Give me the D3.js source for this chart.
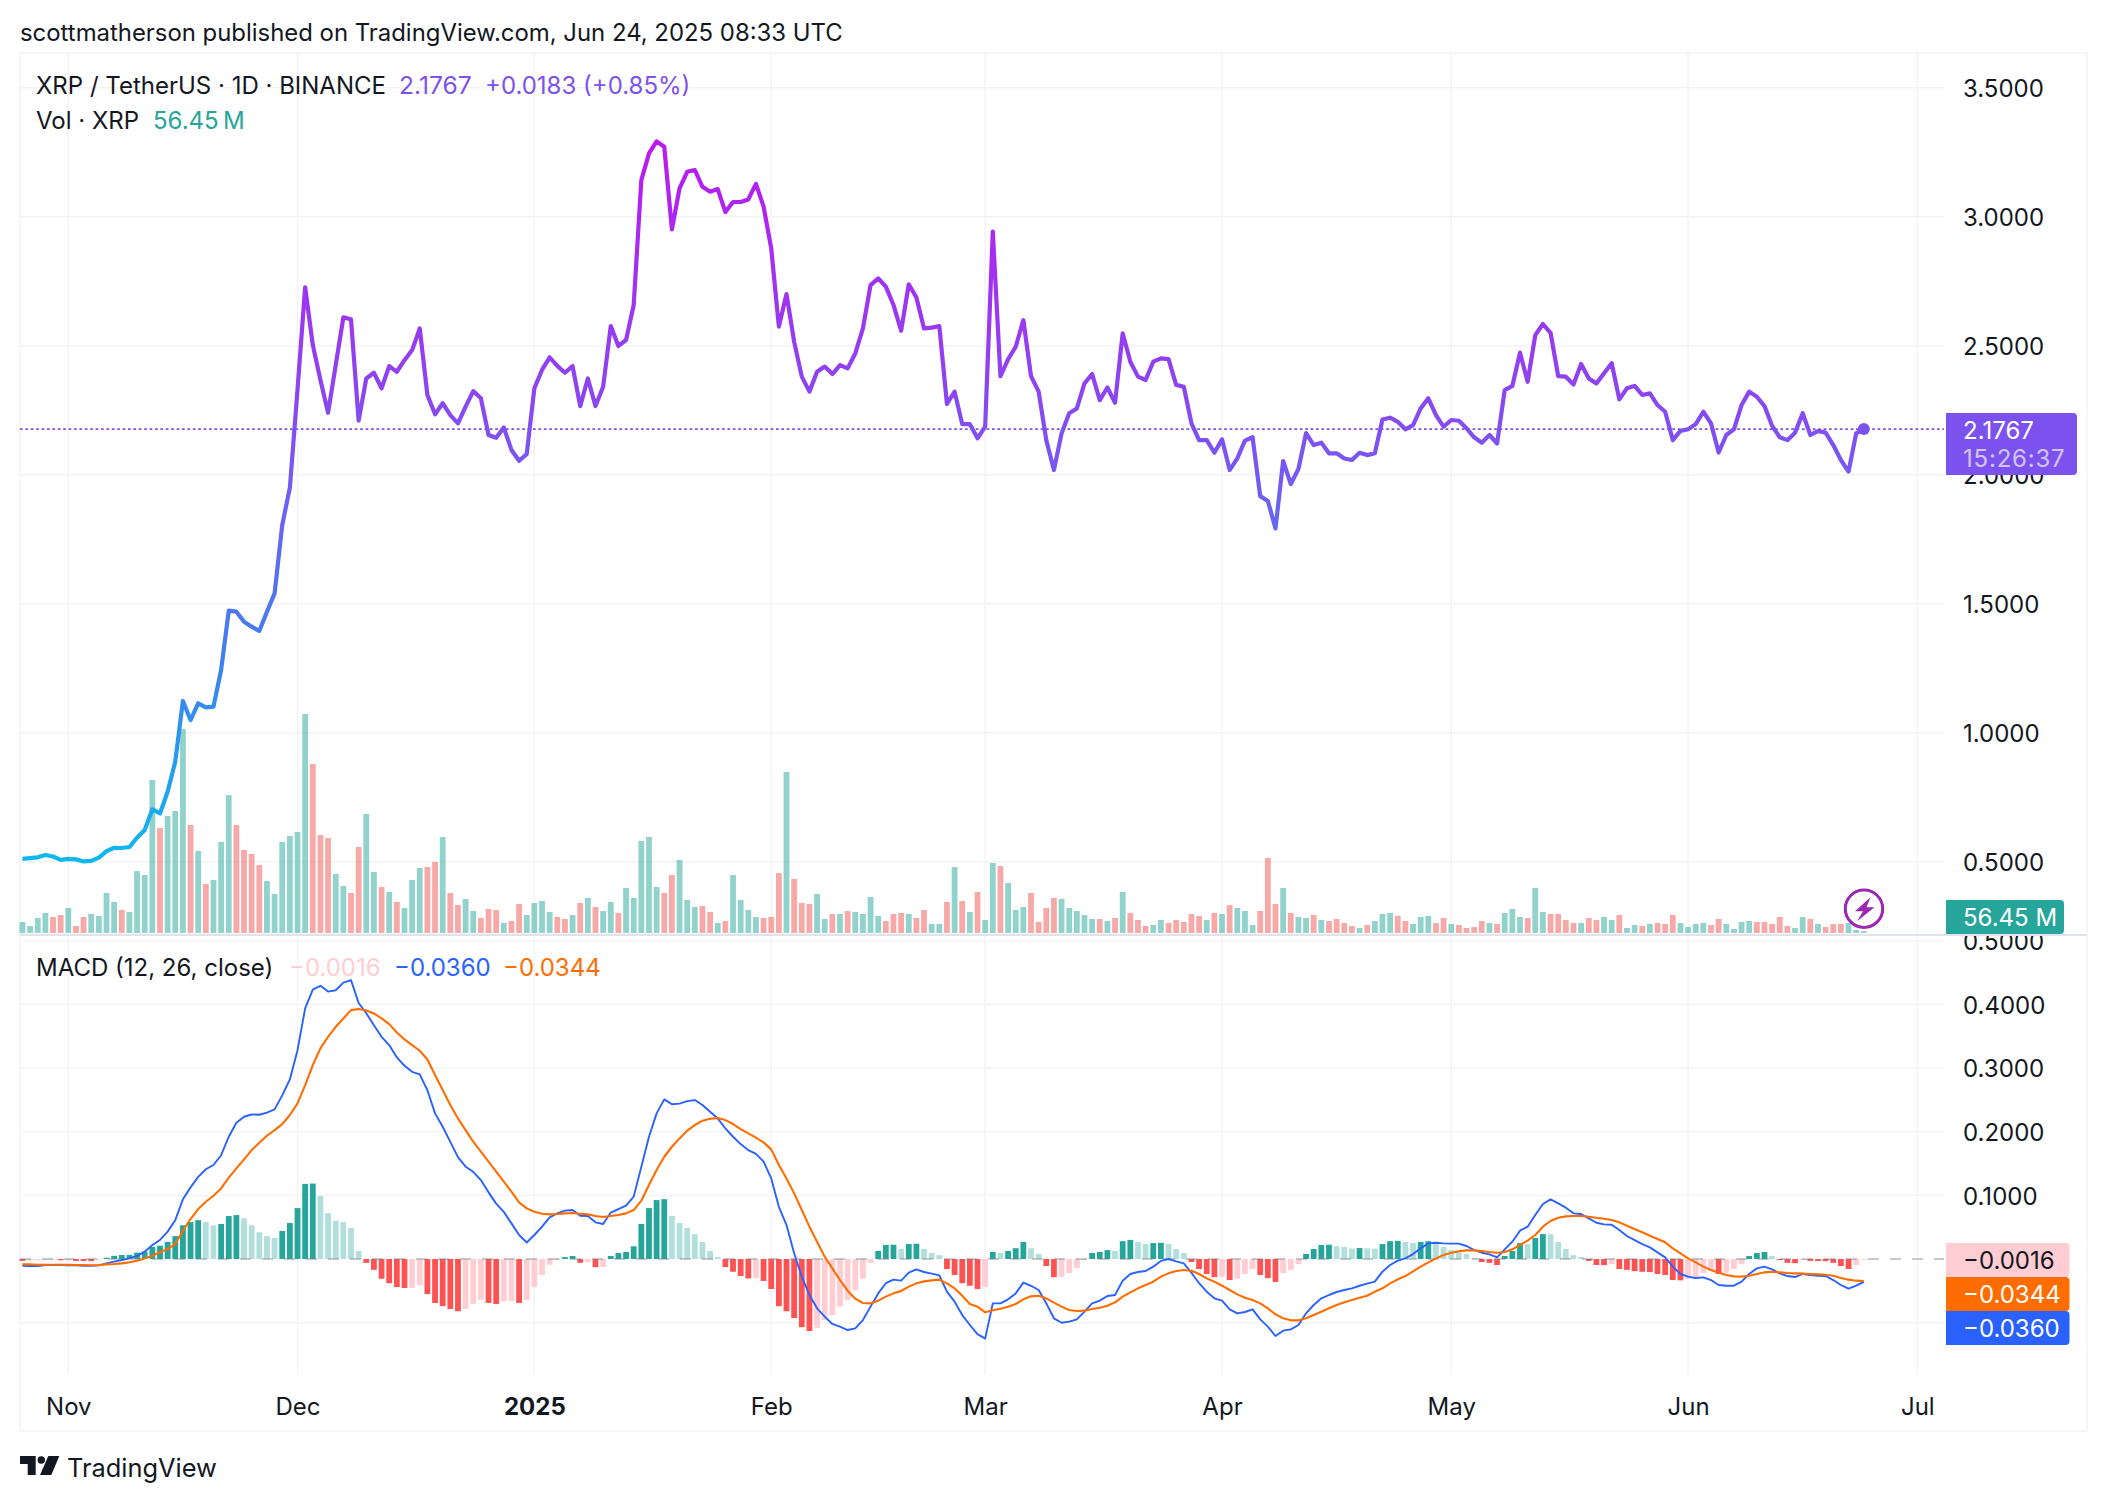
<!DOCTYPE html>
<html>
<head>
<meta charset="utf-8">
<style>
  html, body { margin: 0; padding: 0; background: #fff; }
  svg { display: block; }
  text { font-family: Inter, "Open Sans", sans-serif; fill: #131722; }
</style>
</head>
<body>
<svg id="chart"></svg>
<script src="https://cdnjs.cloudflare.com/ajax/libs/d3/7.8.5/d3.min.js"></script>
<script>
//daily bars from 26 Oct 2024 to 24 Jun 2025
const firstDay = new Date(Date.UTC(2024, 9, 26));
const lastDay = new Date(Date.UTC(2025, 5, 24));

const closes = [
  0.511, 0.514, 0.517, 0.526, 0.52, 0.507, 0.511, 0.509, 0.501, 0.503,
  0.516, 0.541, 0.554, 0.553, 0.557, 0.593, 0.623, 0.703, 0.687, 0.771,
  0.888, 1.123, 1.049, 1.114, 1.098, 1.101, 1.243, 1.473, 1.469, 1.43,
  1.411, 1.394, 1.469, 1.54, 1.805, 1.95, 2.33, 2.726, 2.503, 2.367,
  2.24, 2.425, 2.61, 2.602, 2.21, 2.373, 2.395, 2.335, 2.421, 2.399,
  2.444, 2.483, 2.567, 2.309, 2.234, 2.277, 2.231, 2.199, 2.264, 2.324,
  2.296, 2.154, 2.143, 2.183, 2.096, 2.054, 2.08, 2.335, 2.406, 2.455,
  2.422, 2.395, 2.421, 2.266, 2.373, 2.266, 2.341, 2.576, 2.499, 2.522,
  2.658, 3.142, 3.245, 3.292, 3.271, 2.951, 3.11, 3.174, 3.181, 3.116,
  3.097, 3.107, 3.018, 3.057, 3.057, 3.067, 3.127, 3.039, 2.877, 2.574,
  2.7, 2.515, 2.38, 2.322, 2.399, 2.419, 2.39, 2.425, 2.412, 2.47,
  2.567, 2.735, 2.761, 2.729, 2.658, 2.558, 2.738, 2.687, 2.567, 2.57,
  2.576, 2.274, 2.322, 2.196, 2.196, 2.141, 2.186, 2.942, 2.382, 2.447,
  2.496, 2.599, 2.382, 2.322, 2.134, 2.018, 2.16, 2.238, 2.257, 2.354,
  2.39, 2.289, 2.338, 2.279, 2.548, 2.438, 2.38, 2.367, 2.438, 2.451,
  2.448, 2.348, 2.341, 2.199, 2.134, 2.134, 2.085, 2.137, 2.018, 2.063,
  2.132, 2.145, 1.917, 1.898, 1.792, 2.053, 1.964, 2.022, 2.161, 2.115,
  2.124, 2.083, 2.083, 2.063, 2.057, 2.085, 2.076, 2.083, 2.214, 2.221,
  2.205, 2.176, 2.192, 2.257, 2.296, 2.231, 2.186, 2.212, 2.209, 2.18,
  2.145, 2.124, 2.154, 2.121, 2.328, 2.344, 2.473, 2.36, 2.541, 2.584,
  2.55, 2.382, 2.38, 2.35, 2.429, 2.373, 2.354, 2.393, 2.432, 2.292,
  2.335, 2.344, 2.309, 2.315, 2.27, 2.244, 2.134, 2.17, 2.176, 2.196,
  2.244, 2.199, 2.086, 2.154, 2.176, 2.27, 2.322, 2.302, 2.266, 2.189,
  2.145, 2.134, 2.163, 2.238, 2.154, 2.169, 2.163, 2.115, 2.057, 2.012,
  2.16, 2.1767
];

//volume in millions, negative means a down day
const volumes = [
  330, 210, 450, 600, -480, -540, 750, -210, -480, 570,
  510, 1200, 930, -690, 630, 1860, 1740, 4590, -3150, 3510,
  3660, 6120, -3240, 2460, -1470, 1590, 2730, 4140, -3240, -2490,
  -2370, -2040, 1560, 1170, 2730, 2910, 3030, 6570, -5070, -2940,
  -2850, 1770, 1410, -1200, -2580, 3570, 1830, -1380, 1230, -930,
  750, 1590, 1950, -1980, -2130, 2880, -1200, -840, 1020, 660,
  -450, -720, -690, 300, -360, -870, 540, 900, 960, 630,
  -480, -420, 540, -900, 1050, -780, 660, 930, -600, 1350,
  1050, 2760, 2880, 1380, -1200, -1740, 2190, 990, 780, -810,
  -630, 300, -360, 1740, 990, 690, 480, -450, -480, -1800,
  4830, -1620, -900, -870, 1170, 420, -570, 570, -660, 630,
  570, 1080, 510, -360, -570, -600, 570, -450, -690, 270,
  270, -930, 1980, -960, 630, -1230, 390, 2100, -2010, 1500,
  690, 780, -1200, -330, -750, -1050, 1020, 750, 660, 540,
  420, -420, 360, -450, 1230, -600, -390, -210, 240, 390,
  -300, -390, -330, -570, -510, 390, -600, 570, -840, 750,
  660, 240, -660, -2250, -870, 1350, -600, 480, 450, -540,
  390, -360, -420, -300, -210, 150, -240, 360, 570, 600,
  -510, -360, 270, 480, 510, -300, -450, 270, -240, -150,
  -180, -360, 300, -270, 600, 720, 480, -450, 1350, 630,
  -570, -570, -390, -300, 300, -450, -390, 480, 390, -540,
  150, 240, -210, 270, -300, -270, -540, 300, 180, 270,
  300, -240, -420, 270, 120, 330, 360, -330, -330, -270,
  -480, -210, 150, 480, -420, 270, -180, -270, -270, 300,
  90, 56.45
];

const macdLine = [
  -0.0105, -0.011, -0.011, -0.0094, -0.0094, -0.0094, -0.01, -0.01, -0.0105, -0.0105,
  -0.01, -0.0068, -0.004, -0.0016, 0.001, 0.005, 0.0115, 0.022, 0.03, 0.043,
  0.061, 0.0937, 0.1125, 0.129, 0.141, 0.1476, 0.163, 0.192, 0.214, 0.2234,
  0.227, 0.2266, 0.23, 0.235, 0.257, 0.282, 0.328, 0.3935, 0.423, 0.429,
  0.42, 0.422, 0.434, 0.438, 0.402, 0.386, 0.367, 0.349, 0.336, 0.3166,
  0.3035, 0.294, 0.29, 0.265, 0.2287, 0.2077, 0.184, 0.16, 0.145, 0.137,
  0.124, 0.1047, 0.087, 0.074, 0.056, 0.0377, 0.026, 0.0377, 0.0508, 0.0654,
  0.0717, 0.076, 0.077, 0.068, 0.0675, 0.0576, 0.055, 0.073, 0.0785, 0.0837,
  0.098, 0.145, 0.192, 0.2287, 0.2507, 0.243, 0.244, 0.248, 0.2496, 0.2418,
  0.2313, 0.2208, 0.205, 0.192, 0.1805, 0.171, 0.165, 0.153, 0.1266, 0.082,
  0.0534, 0.009, -0.0277, -0.0565, -0.0774, -0.0905, -0.102, -0.1062, -0.1115, -0.1088,
  -0.0958, -0.0748, -0.054, -0.038, -0.0324, -0.034, -0.0215, -0.0162, -0.0204, -0.023,
  -0.0256, -0.0513, -0.067, -0.088, -0.1036, -0.118, -0.125, -0.0696, -0.0696, -0.0633,
  -0.054, -0.037, -0.042, -0.0487, -0.0696, -0.0931, -0.1, -0.0984, -0.0947, -0.0827,
  -0.0696, -0.0654, -0.058, -0.0565, -0.034, -0.0235, -0.0204, -0.0188, -0.012, -0.003,
  0, -0.0037, -0.0068, -0.0215, -0.038, -0.0513, -0.0617, -0.0654, -0.079, -0.0853,
  -0.0832, -0.079, -0.0947, -0.1062, -0.1209, -0.1125, -0.1104, -0.1036, -0.0853, -0.0722,
  -0.0617, -0.0565, -0.0518, -0.0487, -0.046, -0.042, -0.0387, -0.0356, -0.0199, -0.0094,
  -0.0026, 0.001, 0.0078, 0.0167, 0.0246, 0.0256, 0.0246, 0.0241, 0.0241, 0.0204,
  0.0141, 0.0099, 0.0073, 0.0026, 0.0152, 0.0272, 0.0445, 0.0508, 0.0691, 0.0863,
  0.0937, 0.0874, 0.0806, 0.0717, 0.0706, 0.0638, 0.057, 0.0544, 0.0539, 0.0455,
  0.0361, 0.0298, 0.0235, 0.0183, 0.0105, 0.0026, -0.012, -0.0235, -0.0277, -0.0298,
  -0.0288, -0.033, -0.0408, -0.0419, -0.0419, -0.0356, -0.0235, -0.0147, -0.012, -0.0162,
  -0.0225, -0.0267, -0.0283, -0.0235, -0.0251, -0.0262, -0.0267, -0.033, -0.0408, -0.0466,
  -0.0419, -0.036
];

const signalLine = [
  -0.0084, -0.0084, -0.0089, -0.0089, -0.0089, -0.0089, -0.0089, -0.0094, -0.0094, -0.0099,
  -0.0094, -0.0084, -0.0078, -0.0068, -0.0052, -0.0026, 0.001, 0.0052, 0.0105, 0.0157,
  0.0235, 0.0445, 0.0628, 0.0785, 0.09, 0.0994, 0.1109, 0.1277, 0.1423, 0.1565,
  0.1711, 0.1826, 0.1936, 0.2025, 0.2119, 0.2261, 0.2444, 0.2732, 0.3046, 0.3307,
  0.349, 0.3647, 0.3778, 0.3909, 0.3925, 0.3904, 0.3857, 0.3778, 0.3689, 0.3558,
  0.3448, 0.336, 0.3271, 0.3134, 0.2889, 0.2653, 0.2418, 0.2208, 0.2025, 0.1842,
  0.1685, 0.1528, 0.1371, 0.1214, 0.1057, 0.089, 0.0795, 0.0743, 0.0712, 0.0701,
  0.0706, 0.0717, 0.0722, 0.0712, 0.0701, 0.0675, 0.0659, 0.0675, 0.0691, 0.0717,
  0.0769, 0.0916, 0.1162, 0.1397, 0.1606, 0.1763, 0.1894, 0.2015, 0.2104, 0.2172,
  0.2203, 0.2213, 0.2182, 0.212, 0.2041, 0.1973, 0.1905, 0.1832, 0.1722, 0.1476,
  0.1266, 0.1031, 0.0769, 0.0508, 0.0272, 0.0037, -0.0147, -0.033, -0.0497, -0.0623,
  -0.0691, -0.0696, -0.0654, -0.0591, -0.0539, -0.0502, -0.0434, -0.0382, -0.0351, -0.0335,
  -0.0324, -0.0382, -0.046, -0.0576, -0.0706, -0.0748, -0.0837, -0.0806, -0.078, -0.0748,
  -0.0706, -0.0633, -0.0586, -0.0576, -0.0617, -0.0685, -0.0748, -0.08, -0.0816, -0.0811,
  -0.0785, -0.0764, -0.0733, -0.068, -0.0591, -0.0523, -0.046, -0.0408, -0.0356, -0.0277,
  -0.0225, -0.0188, -0.0173, -0.0183, -0.0235, -0.0304, -0.0356, -0.0419, -0.0487, -0.0555,
  -0.0607, -0.0644, -0.0696, -0.0774, -0.0869, -0.0931, -0.0963, -0.0963, -0.0931, -0.0879,
  -0.0827, -0.0774, -0.0722, -0.068, -0.0644, -0.0607, -0.0576, -0.0513, -0.046, -0.0382,
  -0.0319, -0.0267, -0.0194, -0.012, -0.0052, 0.001, 0.0063, 0.0099, 0.012, 0.0136,
  0.0136, 0.0126, 0.011, 0.0099, 0.011, 0.0152, 0.022, 0.0288, 0.0377, 0.0508,
  0.0597, 0.0649, 0.067, 0.0675, 0.0675, 0.0665, 0.0649, 0.0633, 0.0612, 0.0576,
  0.0523, 0.0471, 0.0419, 0.0366, 0.0314, 0.0262, 0.0167, 0.0089, 0.001, -0.0052,
  -0.012, -0.0173, -0.0215, -0.0251, -0.0272, -0.0277, -0.0262, -0.0235, -0.0209, -0.0199,
  -0.0209, -0.022, -0.0225, -0.023, -0.0235, -0.0241, -0.0246, -0.0262, -0.0298, -0.0324,
  -0.034, -0.0344
];

const histogram = [
  -0.003, -0.002, -0.0018, -0.001, -0.0009, -0.002, -0.0019, -0.003, -0.0032, -0.0034,
  -0.001, 0.002, 0.005, 0.0063, 0.0065, 0.01, 0.0115, 0.019, 0.021, 0.027,
  0.036, 0.053, 0.058, 0.061, 0.058, 0.053, 0.055, 0.0675, 0.069, 0.064,
  0.053, 0.042, 0.036, 0.033, 0.044, 0.0565, 0.08, 0.118, 0.1185, 0.099,
  0.072, 0.06, 0.058, 0.049, 0.0126, -0.006, -0.017, -0.031, -0.038, -0.044,
  -0.0455, -0.0452, -0.041, -0.055, -0.069, -0.074, -0.0785, -0.082, -0.0785, -0.0706,
  -0.064, -0.069, -0.0706, -0.0665, -0.066, -0.069, -0.064, -0.044, -0.025, -0.009,
  -0.0016, 0.003, 0.0047, -0.006, -0.0047, -0.0128, -0.0125, 0.0047, 0.0094, 0.011,
  0.02, 0.055, 0.08, 0.0926, 0.094, 0.0675, 0.0565, 0.049, 0.039, 0.0267,
  0.0126, 0.003, -0.0126, -0.02, -0.0267, -0.0305, -0.03, -0.0345, -0.047, -0.074,
  -0.082, -0.0926, -0.107, -0.113, -0.108, -0.096, -0.088, -0.075, -0.064, -0.049,
  -0.031, -0.006, 0.0126, 0.022, 0.0225, 0.0157, 0.0235, 0.024, 0.0157, 0.0094,
  0.006, -0.0157, -0.025, -0.038, -0.042, -0.047, -0.044, 0.011, 0.0094, 0.0126,
  0.017, 0.0267, 0.017, 0.008, -0.011, -0.0285, -0.028, -0.022, -0.014, -0.0016,
  0.0094, 0.011, 0.014, 0.0126, 0.028, 0.03, 0.0267, 0.0235, 0.025, 0.0255,
  0.0235, 0.0157, 0.0094, -0.0047, -0.0157, -0.0235, -0.0285, -0.028, -0.033, -0.031,
  -0.0235, -0.0157, -0.025, -0.03, -0.036, -0.022, -0.017, -0.008, 0.008, 0.0157,
  0.022, 0.0225, 0.02, 0.019, 0.0165, 0.0172, 0.0168, 0.0165, 0.0235, 0.028,
  0.0285, 0.0267, 0.025, 0.0267, 0.028, 0.025, 0.019, 0.014, 0.0094, 0.008,
  0.0016, -0.0047, -0.006, -0.0094, 0.0047, 0.0126, 0.025, 0.0235, 0.033, 0.0392,
  0.039, 0.0267, 0.0157, 0.006, 0.003, -0.003, -0.0094, -0.0096, -0.008, -0.0157,
  -0.017, -0.019, -0.02, -0.0205, -0.0235, -0.025, -0.033, -0.0335, -0.031, -0.028,
  -0.022, -0.019, -0.0235, -0.0215, -0.0157, -0.008, 0.0047, 0.0094, 0.011, 0.0047,
  -0.0016, -0.006, -0.0065, -0.0016, -0.003, -0.0032, -0.0034, -0.006, -0.011, -0.0157,
  -0.0094, -0.0016
];

const monthTicks = [
  [new Date(Date.UTC(2024, 10, 1)), "Nov"],
  [new Date(Date.UTC(2024, 11, 1)), "Dec"],
  [new Date(Date.UTC(2025, 0, 1)), "2025"],
  [new Date(Date.UTC(2025, 1, 1)), "Feb"],
  [new Date(Date.UTC(2025, 2, 1)), "Mar"],
  [new Date(Date.UTC(2025, 3, 1)), "Apr"],
  [new Date(Date.UTC(2025, 4, 1)), "May"],
  [new Date(Date.UTC(2025, 5, 1)), "Jun"],
  [new Date(Date.UTC(2025, 6, 1)), "Jul"]
];
const priceTicks = [0.5, 1, 1.5, 2, 2.5, 3, 3.5];
const macdTicks = [-0.1, 0.1, 0.2, 0.3, 0.4, 0.5];

//dimension for canvas
const width = 2108;
const height = 1502;
const plotLeft = 20;
const plotRight = 1944;
const frameRight = 2087;
const frameTop = 53;
const frameBottom = 1431;
const plotBottom = 1375;
const paneLine = 935;
const labelX = 1963;
const fontSize = 24;

const days = d3.utcDay.range(firstDay, d3.utcDay.offset(lastDay, 1));

const svg = d3.select("#chart").attr("width", width).attr("height", height);

//scales, pinned on the gridlines
const x = d3.scaleUtc()
  .domain([monthTicks[0][0], monthTicks[8][0]])
  .range([68.3, 1917.3]);
const yPrice = d3.scaleLinear().domain([0.5, 3.5]).range([861.7, 87.7]);
const yVolume = d3.scaleLinear().domain([0, 6570]).range([933, 714]);
const yMacd = d3.scaleLinear().domain([-0.1, 0.4]).range([1322.7, 1004.3]);
const barWidth = 5.8;

//frame
svg.append("rect")
  .attr("x", plotLeft).attr("y", frameTop)
  .attr("width", frameRight - plotLeft).attr("height", frameBottom - frameTop)
  .attr("fill", "none").attr("stroke", "#f3f3f4").attr("stroke-width", 1.4);

//grid
const grid = svg.append("g").attr("stroke", "#f3f3f4").attr("stroke-width", 1.4);
grid.selectAll("line.v").data(monthTicks).enter().append("line")
  .attr("class", "v")
  .attr("x1", (d) => x(d[0])).attr("x2", (d) => x(d[0]))
  .attr("y1", frameTop).attr("y2", plotBottom);
grid.selectAll("line.p").data(priceTicks).enter().append("line")
  .attr("class", "p")
  .attr("x1", plotLeft).attr("x2", plotRight)
  .attr("y1", (d) => yPrice(d)).attr("y2", (d) => yPrice(d));
grid.selectAll("line.m").data(macdTicks).enter().append("line")
  .attr("class", "m")
  .attr("x1", plotLeft).attr("x2", plotRight)
  .attr("y1", (d) => yMacd(d)).attr("y2", (d) => yMacd(d));

//pane divider
svg.append("line")
  .attr("x1", plotLeft).attr("x2", frameRight)
  .attr("y1", paneLine).attr("y2", paneLine)
  .attr("stroke", "#e0e3eb").attr("stroke-width", 2);

//volume bars
svg.append("g").selectAll("rect").data(volumes).enter().append("rect")
  .attr("x", (d, i) => x(days[i]) - barWidth / 2)
  .attr("width", barWidth)
  .attr("y", (d) => yVolume(Math.abs(d)))
  .attr("height", (d) => yVolume(0) - yVolume(Math.abs(d)))
  .attr("fill", (d) => (d < 0 ? "#ef5350" : "#26a69a"))
  .attr("opacity", 0.5);

//price line has a vertical colour gradient
const defs = svg.append("defs");
const gradient = defs.append("linearGradient")
  .attr("id", "priceGradient")
  .attr("gradientUnits", "userSpaceOnUse")
  .attr("x1", 0).attr("x2", 0)
  .attr("y1", yPrice(3.3)).attr("y2", yPrice(0.5));
[
  ["0%", "#bb19f2"],
  ["35%", "#8c45f0"],
  ["50%", "#6e60f4"],
  ["72%", "#3f80ee"],
  ["100%", "#0fb8ef"]
].forEach((s) => {
  gradient.append("stop").attr("offset", s[0]).attr("stop-color", s[1]);
});

const priceLine = d3.line()
  .x((d, i) => x(days[i]))
  .y((d) => yPrice(d));
svg.append("path")
  .attr("d", priceLine(closes))
  .attr("fill", "none")
  .attr("stroke", "url(#priceGradient)")
  .attr("stroke-width", 4.2)
  .attr("stroke-linejoin", "round");

//dotted last price line
svg.append("line")
  .attr("x1", plotLeft).attr("x2", plotRight)
  .attr("y1", yPrice(2.1767)).attr("y2", yPrice(2.1767))
  .attr("stroke", "#7c52ee").attr("stroke-width", 1.8)
  .attr("stroke-dasharray", "2.7 2.7");

//last point
svg.append("circle")
  .attr("cx", x(lastDay)).attr("cy", yPrice(2.1767)).attr("r", 6)
  .attr("fill", "#7c52ee");

//lightning badge
const badge = svg.append("g").attr("transform", "translate(1864,908.7)");
badge.append("circle").attr("r", 18.7)
  .attr("fill", "#fff").attr("fill-opacity", 0.85)
  .attr("stroke", "#9c27b0").attr("stroke-width", 3);
badge.append("path")
  .attr("d", "M6.5 -11.5 L-9 2.5 L-1 2.5 L-7 12.5 L10.5 -1.5 L2.5 -1.5 Z")
  .attr("fill", "#9c27b0");

//macd histogram, colour depends on sign and on direction
const histColor = (d, i) => {
  const prev = i > 0 ? histogram[i - 1] : d;
  if (d >= 0) return d > prev ? "#26a69a" : "#b2dfdb";
  return d <= prev ? "#ff5252" : "#ffcdd2";
};
svg.append("g").selectAll("rect").data(histogram).enter().append("rect")
  .attr("x", (d, i) => x(days[i]) - barWidth / 2)
  .attr("width", barWidth)
  .attr("y", (d) => Math.min(yMacd(d), yMacd(0)))
  .attr("height", (d) => Math.abs(yMacd(d) - yMacd(0)))
  .attr("fill", histColor);

//zero line
svg.append("line")
  .attr("x1", plotLeft).attr("x2", plotRight)
  .attr("y1", yMacd(0)).attr("y2", yMacd(0))
  .attr("stroke", "#787b86").attr("stroke-opacity", 0.55)
  .attr("stroke-width", 1.6)
  .attr("stroke-dasharray", "11 11");

const macdPath = d3.line()
  .x((d, i) => x(days[i]))
  .y((d) => yMacd(d));
svg.append("path").attr("d", macdPath(macdLine))
  .attr("fill", "none").attr("stroke", "#2962ff").attr("stroke-width", 1.9)
  .attr("stroke-linejoin", "round");
svg.append("path").attr("d", macdPath(signalLine))
  .attr("fill", "none").attr("stroke", "#ff6d00").attr("stroke-width", 2.1)
  .attr("stroke-linejoin", "round");

//axes, lines removed so that only the labels stay
const xAxis = d3.axisBottom(x)
  .tickValues(monthTicks.map((d) => d[0]))
  .tickFormat((d, i) => monthTicks[i][1])
  .tickSize(0).tickPadding(0);
const xGroup = svg.append("g")
  .attr("transform", "translate(0," + 1415 + ")")
  .call(xAxis);
xGroup.select(".domain").remove();
xGroup.selectAll("text")
  .attr("dy", 0)
  .attr("font-size", fontSize)
  .attr("font-family", "Inter")
  .attr("font-weight", (d, i) => (monthTicks[i][1] === "2025" ? 700 : 400));

const priceAxis = d3.axisRight(yPrice)
  .tickValues(priceTicks)
  .tickFormat(d3.format(".4f"))
  .tickSize(0).tickPadding(0);
const priceGroup = svg.append("g")
  .attr("transform", "translate(" + labelX + ",0)")
  .call(priceAxis);
priceGroup.select(".domain").remove();
priceGroup.selectAll("text").attr("dy", "0.375em").attr("font-size", fontSize).attr("font-family", "Inter");

//lower pane labels are cut off by the pane divider
defs.append("clipPath").attr("id", "macdClip").append("rect")
  .attr("x", 1946).attr("y", paneLine + 1).attr("width", 160).attr("height", 460);
const macdAxis = d3.axisRight(yMacd)
  .tickValues([0.1, 0.2, 0.3, 0.4, 0.5])
  .tickFormat(d3.format(".4f"))
  .tickSize(0).tickPadding(0);
const macdGroup = svg.append("g")
  .attr("clip-path", "url(#macdClip)")
  .append("g")
  .attr("transform", "translate(" + labelX + ",0)")
  .call(macdAxis);
macdGroup.select(".domain").remove();
macdGroup.selectAll("text").attr("dy", "0.375em").attr("font-size", fontSize).attr("font-family", "Inter");

//value tags on the right
const tag = (y0, y1, right, color, label, textColor) => {
  svg.append("path")
    .attr("d", "M1946 " + y0 + "H" + (right - 4) + "Q" + right + " " + y0 + " " + right + " " + (y0 + 4)
      + "V" + (y1 - 4) + "Q" + right + " " + y1 + " " + (right - 4) + " " + y1 + "H1946Z")
    .attr("fill", color);
  svg.append("text")
    .attr("x", labelX).attr("y", (y0 + y1) / 2).attr("dy", "0.36em")
    .attr("font-size", fontSize)
    .style("fill", textColor)
    .text(label);
};
svg.append("path")
  .attr("d", "M1946 413H2073Q2077 413 2077 417V471Q2077 475 2073 475H1946Z")
  .attr("fill", "#7c52ee");
svg.append("text").attr("x", labelX).attr("y", 430).attr("dy", "0.36em")
  .attr("font-size", fontSize).style("fill", "#fff").text("2.1767");
svg.append("text").attr("x", labelX).attr("y", 458).attr("dy", "0.36em")
  .attr("font-size", fontSize).attr("letter-spacing", 0.8)
  .style("fill", "#fff").style("opacity", 0.65).text("15:26:37");
tag(900, 934, 2064, "#26a69a", "56.45 M", "#fff");
tag(1243, 1277, 2069.5, "#ffcdd2", "\u22120.0016", "#131722");
tag(1277, 1311, 2069.5, "#ff6d00", "\u22120.0344", "#fff");
tag(1311, 1345, 2069.5, "#2962ff", "\u22120.0360", "#fff");

//header and legends
const label = (px, py, content, color, size) => {
  svg.append("text")
    .attr("x", px).attr("y", py).attr("dy", "0.36em")
    .attr("font-size", size || fontSize)
    .style("fill", color || "#131722")
    .text(content);
};
label(20, 32, "scottmatherson published on TradingView.com, Jun 24, 2025 08:33 UTC", "#131722", 23.9);
label(36, 85, "XRP / TetherUS \u00b7 1D \u00b7 BINANCE");
label(399, 85, "2.1767", "#7c52ee", 24.6);
label(485, 85, "+0.0183 (+0.85%)", "#7c52ee");
label(36, 120, "Vol \u00b7 XRP");
label(153, 120, "56.45\u202fM", "#26a69a");
label(36, 967, "MACD (12, 26, close)");
label(289, 967, "\u22120.0016", "#ffcdd2");
label(394, 967, "\u22120.0360", "#2962ff");
label(503, 967, "\u22120.0344", "#ff6d00");

//tradingview logo
const logo = svg.append("g").attr("transform", "translate(0,1440)").attr("fill", "#131722");
logo.append("path").attr("d", "M20 16H35.7V35H27.7V24H20Z");
logo.append("circle").attr("cx", 41.3).attr("cy", 20).attr("r", 3.7);
logo.append("path").attr("d", "M48.3 16H59.3L51.3 35H40Z");
label(67, 1468, "TradingView", "#131722", 25.4);
</script>
</body>
</html>
